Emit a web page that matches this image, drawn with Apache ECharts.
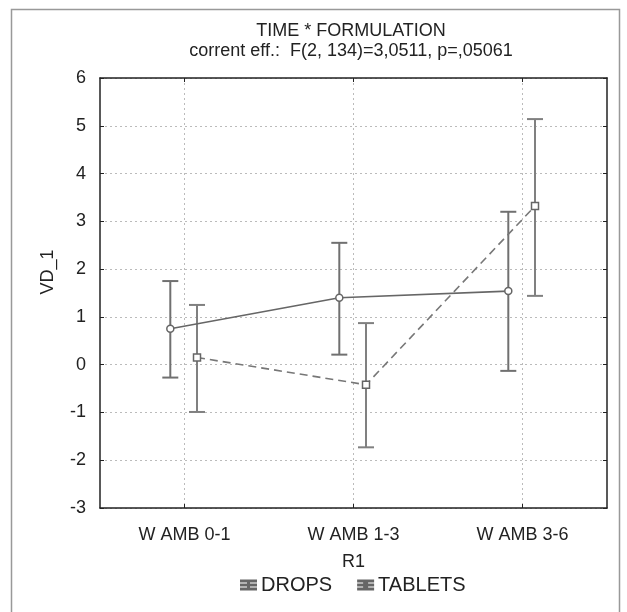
<!DOCTYPE html>
<html>
<head>
<meta charset="utf-8">
<script src="https://cdn.jsdelivr.net/npm/echarts@6/dist/echarts.min.js"></script>
<style>html,body{margin:0;padding:0;background:#fff}#c{width:627px;height:612px}</style>
</head>
<body>
<div id="c"></div>
<script>
const categories = ['W AMB 0-1', 'W AMB 1-3', 'W AMB 3-6'];
const yTicks = [-3, -2, -1, 0, 1, 2, 3, 4, 5, 6];
const dropsMean = [0.75, 1.40, 1.54];
const dropsLow = [-0.27, 0.21, -0.13];
const dropsHigh = [1.75, 2.55, 3.20];
const tabletsMean = [0.15, -0.42, 3.32];
const tabletsLow = [-0.99, -1.73, 1.44];
const tabletsHigh = [1.25, 0.87, 5.14];

const FONT = 'Liberation Sans, Arial, sans-serif';
const DROP_OFF = -0.084, TAB_OFF = 0.074;
const catIdx = categories.map((c, i) => i);

function pts(mean, off) { return mean.map((v, i) => [i + off, v]); }
function bars(lo, hi, off) { return lo.map((v, i) => [i + off, v, hi[i]]); }

function errRender(color) {
  return function (params, api) {
    const x = api.value(0), lo = api.value(1), hi = api.value(2);
    const a = api.coord([x, hi]), b = api.coord([x, lo]);
    const w = 8;
    const st = { stroke: color, lineWidth: 2, fill: null };
    return { type: 'group', children: [
      { type: 'line', shape: { x1: a[0], y1: a[1], x2: b[0], y2: b[1] }, style: st },
      { type: 'line', shape: { x1: a[0] - w, y1: a[1], x2: a[0] + w, y2: a[1] }, style: st },
      { type: 'line', shape: { x1: b[0] - w, y1: b[1], x2: b[0] + w, y2: b[1] }, style: st }
    ]};
  };
}

const chart = echarts.init(document.getElementById('c'));
const dropsIcon = 'path://M0,0h15v1h-15z M0,8h15v1h-15z M7,0h1v9h-1z M0,4h15v1h-15z';
const tabIcon = 'path://M0,0h15v1h-15z M0,8h15v1h-15z M7,0h1v9h-1z M0,4h4v1h-4z M11,4h4v1h-4z M6,3h3v3h-3z';
chart.setOption({
  animation: false,
  backgroundColor: '#fff',
  textStyle: { fontFamily: FONT },
  title: {
    text: 'TIME * FORMULATION',
    subtext: 'corrent eff.:  F(2, 134)=3,0511, p=,05061',
    left: 351, top: 22, itemGap: 2, padding: 0, textAlign: 'center',
    textStyle: { fontFamily: FONT, fontSize: 18, fontWeight: 'normal', color: '#222' },
    subtextStyle: { fontFamily: FONT, fontSize: 18, color: '#222' }
  },
  graphic: [{
    type: 'rect', shape: { x: 11.5, y: 9.5, width: 608, height: 610 },
    style: { fill: null, stroke: '#999', lineWidth: 1.5 }, silent: true
  }, {
    type: 'text', x: 48, y: 272, rotation: Math.PI / 2,
    style: { text: 'VD_1', fontFamily: FONT, fontSize: 18, fill: '#222', align: 'center', verticalAlign: 'middle' }
  }],
  legend: {
    bottom: 12, left: 235, itemWidth: 15, itemHeight: 9, itemGap: 25,
    textStyle: { fontFamily: FONT, fontSize: 20, color: '#222' },
    data: [
      { name: 'DROPS', icon: dropsIcon, itemStyle: { color: '#8a8a8a' } },
      { name: 'TABLETS', icon: tabIcon, itemStyle: { color: '#8a8a8a' } }
    ]
  },
  grid: { left: 100, right: 20, top: 78, bottom: 104, containLabel: false },
  xAxis: [{
    type: 'value', min: -0.5, max: 2.5, position: 'bottom',
    name: 'R1', nameLocation: 'middle', nameGap: 45,
    nameTextStyle: { fontFamily: FONT, fontSize: 18, color: '#222' },
    axisLine: { show: true, onZero: false, lineStyle: { color: '#222', width: 1.5 } },
    axisTick: { show: true, inside: true, length: 4, customValues: catIdx, lineStyle: { color: '#222' } },
    axisLabel: { customValues: catIdx, formatter: v => categories[Math.round(v)], margin: 18,
      fontFamily: FONT, fontSize: 18, color: '#222' },
    splitLine: { show: true, lineStyle: { color: '#bbb', type: [2, 3] } }
  }, {
    type: 'value', min: -0.5, max: 2.5, position: 'top',
    axisLine: { show: true, onZero: false, lineStyle: { color: '#222', width: 1.5 } },
    axisTick: { show: true, inside: true, length: 4, customValues: catIdx, lineStyle: { color: '#222' } },
    axisLabel: { show: false, customValues: catIdx },
    splitLine: { show: false }
  }],
  yAxis: [{
    type: 'value', min: -3, max: 6, interval: 1, position: 'left',
    axisLine: { show: true, onZero: false, lineStyle: { color: '#222', width: 1.5 } },
    axisTick: { show: true, inside: true, length: 4, lineStyle: { color: '#222' } },
    axisLabel: { margin: 14, fontFamily: FONT, fontSize: 18, color: '#222',
      formatter: v => yTicks.includes(v) ? String(v) : '' },
    splitLine: { show: true, lineStyle: { color: '#bbb', type: [2, 3] } }
  }, {
    type: 'value', min: -3, max: 6, interval: 1, position: 'right',
    axisLine: { show: true, onZero: false, lineStyle: { color: '#222', width: 1.5 } },
    axisTick: { show: true, inside: true, length: 4, lineStyle: { color: '#222' } },
    axisLabel: { show: false },
    splitLine: { show: false }
  }],
  series: [{
    name: 'DROPS', type: 'line', xAxisIndex: 0, yAxisIndex: 0,
    data: pts(dropsMean, DROP_OFF),
    symbol: 'circle', symbolSize: 7, z: 5,
    lineStyle: { color: '#666', width: 1.6 },
    itemStyle: { color: '#fff', borderColor: '#666', borderWidth: 1.5 }
  }, {
    name: 'TABLETS', type: 'line', xAxisIndex: 0, yAxisIndex: 0,
    data: pts(tabletsMean, TAB_OFF),
    symbol: 'rect', symbolSize: 7, z: 5,
    lineStyle: { color: '#777', width: 1.6, type: [8, 5] },
    itemStyle: { color: '#fff', borderColor: '#666', borderWidth: 1.5 }
  }, {
    name: 'DROPS', type: 'custom', xAxisIndex: 0, yAxisIndex: 0, z: 3,
    renderItem: errRender('#707070'), data: bars(dropsLow, dropsHigh, DROP_OFF),
    encode: { x: 0, y: [1, 2] }
  }, {
    name: 'TABLETS', type: 'custom', xAxisIndex: 0, yAxisIndex: 0, z: 3,
    renderItem: errRender('#808080'), data: bars(tabletsLow, tabletsHigh, TAB_OFF),
    encode: { x: 0, y: [1, 2] }
  }]
});
</script>
</body>
</html>
